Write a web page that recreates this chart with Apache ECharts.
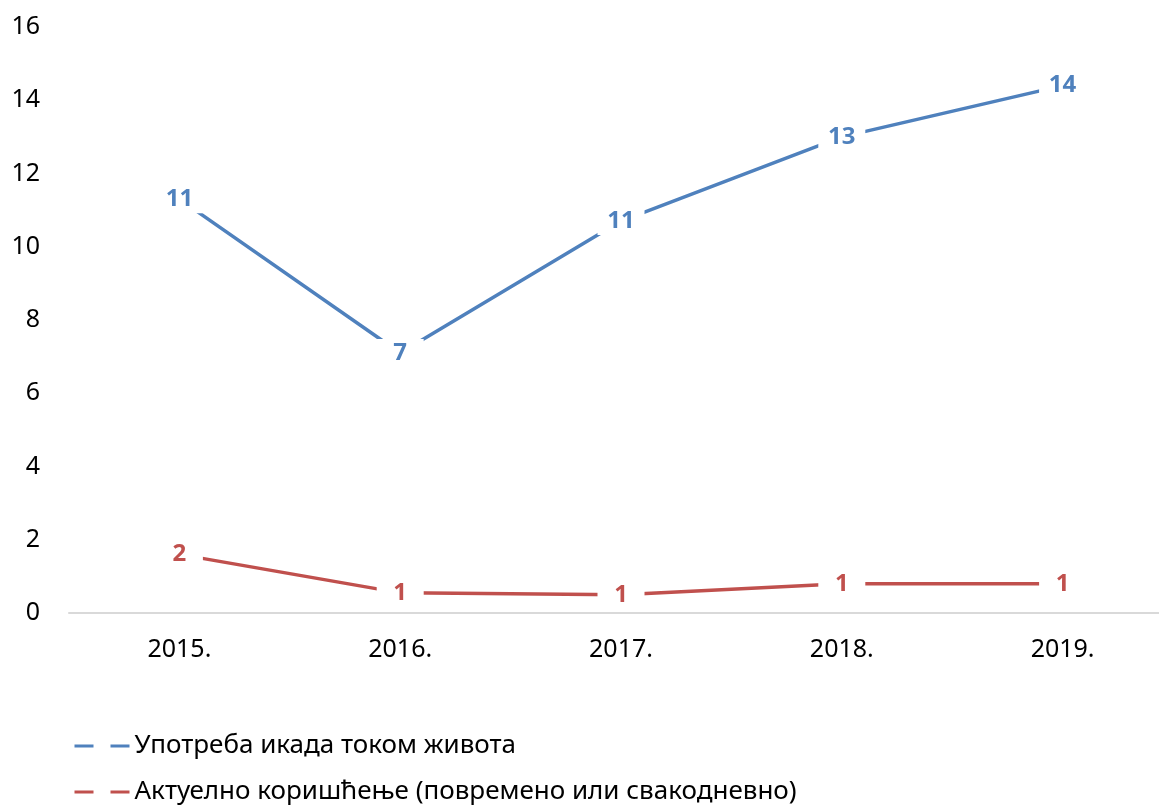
<!DOCTYPE html>
<html>
<head>
<meta charset="utf-8">
<script src="https://cdn.jsdelivr.net/npm/echarts@6/dist/echarts.min.js"></script>
<style>
html,body{margin:0;padding:0;background:#fff;}
#chart{width:1159px;height:805px;}
</style>
</head>
<body>
<div id="chart"></div>
<script>
var years = ['2015.', '2016.', '2017.', '2018.', '2019.'];
var lifetimeUse = [11.3, 7.1, 10.7, 13.0, 14.4];
var currentUse = [1.6, 0.55, 0.5, 0.8, 0.8];
var seriesNames = ['Употреба икада током живота', 'Актуелно коришћење (повремено или свакодневно)'];

var font = '"Noto Sans", sans-serif';

function makeLabel(color) {
	return {
		show: true,
		position: 'inside',
		formatter: function (p) { return Math.round(p.value); },
		color: color,
		fontFamily: font,
		fontSize: 24,
		fontWeight: 'bold',
		backgroundColor: '#fff',
		width: 27,
		align: 'center',
		lineHeight: 28,
		padding: [0, 10]
	};
}

var myChart = echarts.init(document.getElementById('chart'));
myChart.setOption({
	animation: false,
	textStyle: { fontFamily: font },
	grid: { left: 69, top: 27, width: 1104, height: 586, outerBoundsMode: 'none' },
	legend: {
		orient: 'vertical',
		left: 68,
		top: 728,
		height: 200,
		itemGap: 20,
		itemWidth: 55,
		itemHeight: 14,
		itemStyle: { opacity: 0 },
		lineStyle: { width: 3, type: [19, 17] },
		textStyle: { fontSize: 26, color: '#000', fontFamily: font },
		data: seriesNames
	},
	xAxis: {
		type: 'category',
		data: years,
		axisLine: { lineStyle: { color: '#d9d9d9', width: 2 } },
		axisTick: { show: false },
		axisLabel: { fontSize: 25, color: '#000', margin: 24 }
	},
	yAxis: {
		type: 'value',
		min: 0,
		max: 16,
		interval: 2,
		axisLine: { show: false },
		axisTick: { show: false },
		splitLine: { show: false },
		axisLabel: { fontSize: 25, color: '#000', margin: 29 }
	},
	series: [{
		name: seriesNames[0],
		type: 'line',
		data: lifetimeUse,
		symbol: 'circle',
		symbolSize: 0,
		lineStyle: { color: '#4f81bd', width: 3.5 },
		itemStyle: { color: '#4f81bd' },
		label: makeLabel('#4f81bd')
	}, {
		name: seriesNames[1],
		type: 'line',
		data: currentUse,
		symbol: 'circle',
		symbolSize: 0,
		lineStyle: { color: '#c0504d', width: 3.5 },
		itemStyle: { color: '#c0504d' },
		label: makeLabel('#c0504d')
	}]
});
</script>
</body>
</html>
